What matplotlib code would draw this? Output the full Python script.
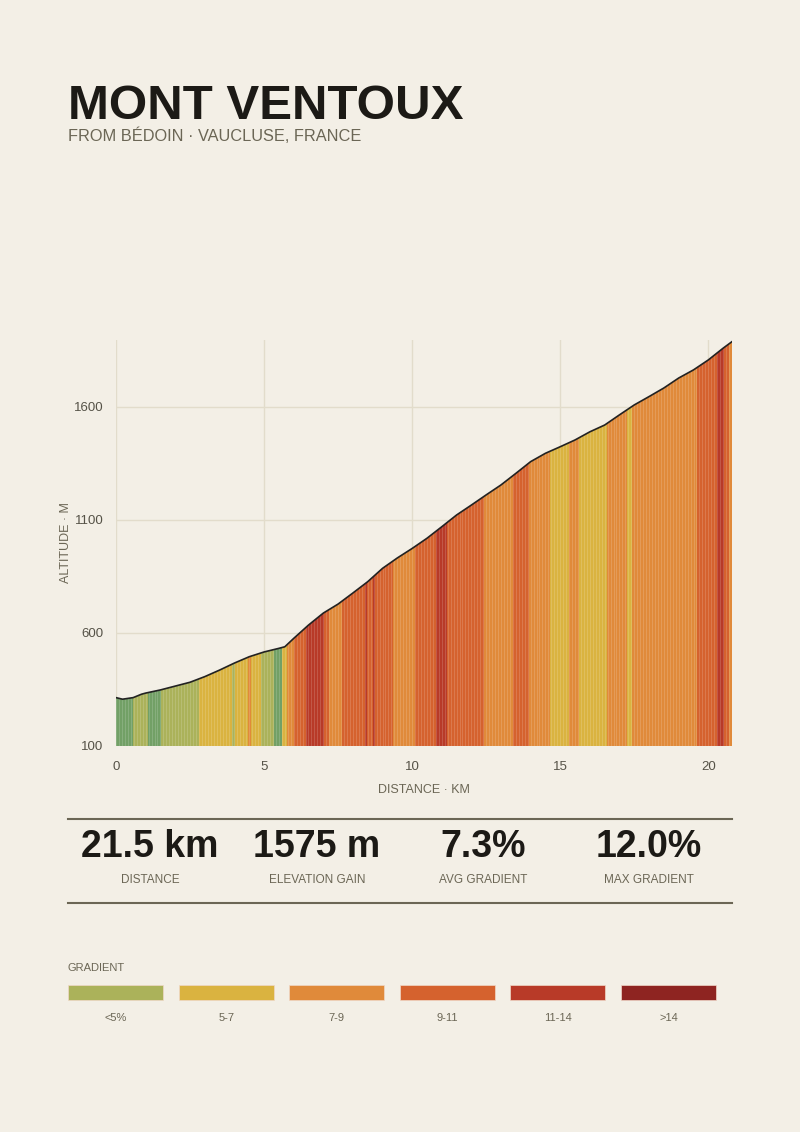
import matplotlib
matplotlib.use("Agg")
import matplotlib.pyplot as plt
from matplotlib.patches import Polygon

plt.rcParams['font.family'] = ['Liberation Sans', 'DejaVu Sans']

# profile (km, metres)
km = [0, 0.22, 0.58, 0.86, 1.0, 1.5, 2.0, 2.5, 3.0, 3.5, 4.0, 4.5, 5.0, 5.5, 5.7, 6.0,
      6.5, 7.0, 7.5, 8.0, 8.5, 9.0, 9.5, 10.0, 10.5, 11.0, 11.5, 12.0, 12.5, 13.0,
      13.5, 14.0, 14.5, 15.0, 15.5, 16.0, 16.5, 17.0, 17.5, 18.0, 18.5, 19.0, 19.5,
      20.0, 20.5, 20.8]
alt = [314, 307, 314, 329, 334, 348, 365, 382, 407, 436, 467, 495, 516, 532, 539, 576,
       635, 688, 728, 777, 827, 886, 932, 974, 1019, 1070, 1122, 1166, 1211, 1255,
       1306, 1358, 1395, 1424, 1454, 1490, 1520, 1565, 1609, 1646, 1684, 1728, 1764,
       1808, 1860, 1889]

# coloured stretches: start km, end km, gradient class
band_start = [0, 0.58, 1.09, 1.52, 2.8, 3.93, 4.02, 4.47, 4.55, 4.89, 5.34, 5.62, 5.79,
              6.0, 6.42, 7.02, 7.19, 7.64, 8.41, 8.47, 8.67, 8.75, 9.37, 10.1, 10.8,
              11.17, 12.41, 13.42, 13.93, 14.66, 15.3, 15.63, 16.57, 17.25, 17.42,
              19.62, 20.29, 20.52, 20.69]
band_end = band_start[1:] + [20.8]
band_cls = ['flat', '<5%', 'flat', '<5%', '5-7', '<5%', '5-7', '7-9', '5-7', '<5%', 'flat',
            '5-7', '7-9', '9-11', '11-14', '9-11', '7-9', '9-11', '11-14', '9-11', '11-14',
            '9-11', '7-9', '9-11', '11-14', '9-11', '7-9', '9-11', '7-9', '5-7', '7-9',
            '5-7', '7-9', '5-7', '7-9', '9-11', '11-14', '9-11', '7-9']

legend_labels = ['<5%', '5-7', '7-9', '9-11', '11-14', '>14']
legend_colors = ['#abb25a', '#dab340', '#e08a3a', '#d5622e', '#b83a28', '#8e2421']
colors = dict(zip(legend_labels, legend_colors))
colors['flat'] = '#72a066'

stat_values = ['21.5 km', '1575 m', '7.3%', '12.0%']
stat_labels = ['DISTANCE', 'ELEVATION GAIN', 'AVG GRADIENT', 'MAX GRADIENT']

bg = '#f3efe6'
muted = '#6b6655'
ink = '#1c1a16'

fig = plt.figure(figsize=(8, 11.32), dpi=100, facecolor=bg)

fig.text(0.085, 1 - 119 / 1132, 'MONT VENTOUX', fontsize=35.5, fontweight='bold',
         color=ink, va='baseline')
fig.text(0.085, 1 - 141 / 1132, 'FROM BÉDOIN · VAUCLUSE, FRANCE', fontsize=11.8,
         color=muted, va='baseline')

ax = fig.add_axes([0.145, 0.341, 0.77, 0.3586])
ax.set_facecolor(bg)
ax.set_xlim(0, 20.8)
ax.set_ylim(100, 1896)
ax.set_xticks([0, 5, 10, 15, 20])
ax.set_yticks([100, 600, 1100, 1600])
ax.grid(True, color='#e2dccb', lw=1)
ax.set_axisbelow(True)
for s in ax.spines.values():
    s.set_visible(False)
ax.tick_params(length=0, labelsize=9.5, labelcolor='#555247')
ax.tick_params(axis='x', pad=11)
ax.tick_params(axis='y', pad=9)

poly = Polygon(list(zip(km, alt)) + [(km[-1], 100), (0, 100)], closed=True,
               facecolor='none', edgecolor='none')
ax.add_patch(poly)
for a, b, c in zip(band_start, band_end, band_cls):
    sp = ax.axvspan(a, b, color=colors[c], lw=0, zorder=2)
    sp.set_clip_path(poly)
# thin strip texture
x = 0.0
while x < 20.8:
    ln = ax.axvline(x, color='white', alpha=0.18, lw=0.6, zorder=3)
    ln.set_clip_path(poly)
    x += 0.1
ax.plot(km, alt, color='#222222', lw=1.2, zorder=4)

ax.set_xlabel('DISTANCE · KM', fontsize=9, color=muted, labelpad=8)
ax.set_ylabel('ALTITUDE · M', fontsize=9, color=muted, labelpad=1)

# stats block
fig.add_artist(plt.Line2D([0.085, 0.915], [1 - 819 / 1132] * 2, color=muted, lw=1.5))
fig.add_artist(plt.Line2D([0.085, 0.915], [1 - 903 / 1132] * 2, color=muted, lw=1.5))
centers = [150, 317, 483, 649]
for cx, v, l in zip(centers, stat_values, stat_labels):
    fig.text(cx / 800, 1 - 847 / 1132, v, fontsize=27, fontweight='bold', color=ink,
             ha='center', va='center')
    fig.text(cx / 800, 1 - 880 / 1132, l, fontsize=8.5, color=muted, ha='center',
             va='center')

# legend
fig.text(0.085, 1 - 968 / 1132, 'GRADIENT', fontsize=8, color=muted, va='center')
for i, (lab, col) in enumerate(zip(legend_labels, legend_colors)):
    x0 = 68 + i * 110.6
    fig.add_artist(plt.Rectangle((x0 / 800, 1 - 1000 / 1132), 95 / 800, 15 / 1132,
                                 facecolor=col, edgecolor='#f0d8c8', lw=0.5))
    fig.text((x0 + 47.5) / 800, 1 - 1018 / 1132, lab, fontsize=8, color=muted,
             ha='center', va='center')

fig.savefig('out.png', dpi=100, facecolor=bg)
